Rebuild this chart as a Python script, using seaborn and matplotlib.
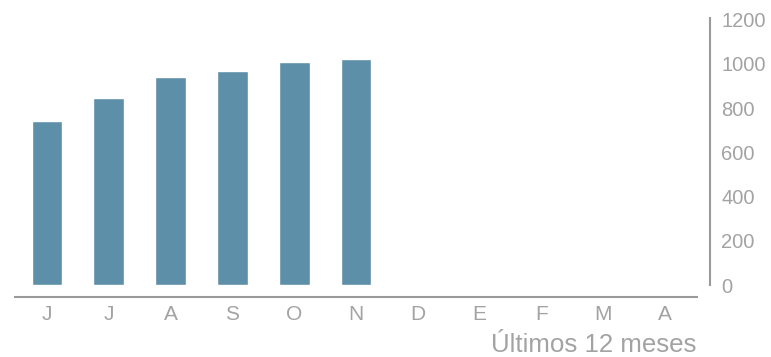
import numpy as np
import pandas as pd
import matplotlib
matplotlib.use("Agg")
import matplotlib.pyplot as plt
import seaborn as sns

# meses (ultimos 12) y valores
meses = ["Jun", "Jul", "Ago", "Sep", "Oct", "Nov", "Dic", "Ene", "Feb", "Mar", "Abr"]
etiquetas = ["J", "J", "A", "S", "O", "N", "D", "E", "F", "M", "A"]
valores = [740, 845, 940, 968, 1008, 1021, np.nan, np.nan, np.nan, np.nan, np.nan]
yticks = [0, 200, 400, 600, 800, 1000, 1200]

df = pd.DataFrame({"mes": meses, "valor": valores})

sns.set_style("white")
plt.rcParams["font.family"] = ["Liberation Sans", "DejaVu Sans"]

gris = "#a3a3a3"
linea = "#9a9a9a"

fig = plt.figure(figsize=(7.71, 3.57), dpi=100)
ax = fig.add_axes([15 / 771, 60 / 357, 695 / 771, 279 / 357])

sns.barplot(data=df, x="mes", y="valor", order=meses, color="#5e8fa9",
            saturation=1, width=0.5, ax=ax)

ax.set_xlim(-0.518, 10.73)
ax.set_ylim(-54, 1207)

ax.set_xticks(range(len(meses)))
ax.set_xticklabels(etiquetas)
ax.yaxis.tick_right()
ax.set_yticks(yticks)
ax.set_yticklabels([str(v) for v in yticks])

ax.tick_params(axis="x", length=0, pad=6, labelsize=15, labelcolor=gris)
ax.tick_params(axis="y", length=0, pad=8, labelsize=14.5, labelcolor=gris)
for lab in ax.get_yticklabels():
    lab.set_horizontalalignment("left")

ax.set_xlabel("")
ax.set_ylabel("")

ax.spines["left"].set_visible(False)
ax.spines["top"].set_visible(False)
ax.spines["right"].set_color(linea)
ax.spines["right"].set_linewidth(1.5)
ax.spines["right"].set_bounds(0, 1207)
ax.spines["bottom"].set_color(linea)
ax.spines["bottom"].set_linewidth(1.5)
ax.spines["bottom"].set_bounds(-0.518, 10.518)

fig.text(696 / 771, 5 / 357, "Últimos 12 meses", ha="right", va="baseline",
         fontsize=18.6, color=gris)

fig.savefig("out.png", dpi=100)
